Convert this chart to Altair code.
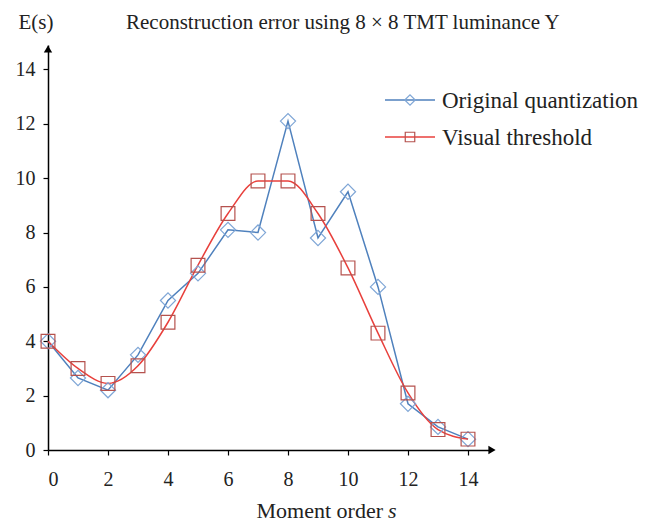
import altair as alt
import pandas as pd

orders = list(range(15))
original = [4.0, 2.65, 2.2, 3.5, 5.5, 6.5, 8.1, 8.0, 12.1, 7.8, 9.5, 6.0, 1.7, 0.85, 0.4]
visual = [4.0, 3.0, 2.45, 3.1, 4.7, 6.8, 8.7, 9.9, 9.9, 8.7, 6.7, 4.3, 2.1, 0.75, 0.4]
x_ticks = [0, 2, 4, 6, 8, 10, 12, 14]
y_ticks = [0, 2, 4, 6, 8, 10, 12, 14]
series_names = ["Original quantization", "Visual threshold"]

FONT = "Liberation Serif, Times New Roman, serif"
BLUE = "#4f81bd"
BLUE_MK = "#7fa6d6"
RED = "#e8403c"
RED_MK = "#b5524e"

df = pd.DataFrame({"s": orders, "orig": original, "vis": visual})

xs = alt.Scale(domain=[0, 14.7], nice=False, zero=False)
ys = alt.Scale(domain=[0, 14.9], nice=False)

x_axis = alt.Axis(values=x_ticks, title=None, grid=False, domainColor="black",
                  domainWidth=1.5, tickColor="black", tickSize=5, tickWidth=1.2,
                  labelFont=FONT, labelFontSize=20, labelPadding=14, labelColor="#222")
y_axis = alt.Axis(values=y_ticks, title=None, grid=False, domainColor="black",
                  domainWidth=1.5, tickColor="black", tickSize=5, tickWidth=1.2,
                  labelFont=FONT, labelFontSize=20, labelPadding=8, labelColor="#222")

X = alt.X("s:Q", scale=xs, axis=x_axis)
base = alt.Chart(df)

blue_line = base.mark_line(color=BLUE, strokeWidth=1.5).encode(
    x=X, y=alt.Y("orig:Q", scale=ys, axis=y_axis))
blue_pts = base.mark_point(shape="diamond", filled=False, size=230, color=BLUE_MK,
                           strokeWidth=1.2, opacity=1).encode(
    x=X, y=alt.Y("orig:Q", scale=ys, axis=y_axis))
red_line = base.mark_line(color=RED, strokeWidth=1.5, interpolate="monotone").encode(
    x=X, y=alt.Y("vis:Q", scale=ys, axis=y_axis))
red_pts = base.mark_point(shape="square", filled=False, size=190, color=RED_MK,
                          strokeWidth=1.2, opacity=1).encode(
    x=X, y=alt.Y("vis:Q", scale=ys, axis=y_axis))

one = alt.Chart(pd.DataFrame({"a": [0]}))

# axis arrows
arrow_y = one.mark_point(shape="triangle-up", filled=True, color="black", size=70, opacity=1).encode(
    x=alt.value(0), y=alt.value(4))
arrow_x = one.mark_point(shape="triangle-right", filled=True, color="black", size=70, opacity=1).encode(
    x=alt.value(444), y=alt.value(405))

# legend
leg_b_line = one.mark_rule(color=BLUE, strokeWidth=1.5).encode(
    x=alt.value(337), x2=alt.value(387), y=alt.value(55))
leg_b_pt = one.mark_point(shape="diamond", filled=False, size=110, color=BLUE_MK,
                          strokeWidth=1.2, opacity=1).encode(x=alt.value(362), y=alt.value(55))
leg_b_txt = one.mark_text(text=series_names[0], font=FONT, fontSize=23, align="left",
                          baseline="middle", color="#222").encode(x=alt.value(394), y=alt.value(56))
leg_r_line = one.mark_rule(color=RED, strokeWidth=1.5).encode(
    x=alt.value(337), x2=alt.value(387), y=alt.value(92))
leg_r_pt = one.mark_point(shape="square", filled=False, size=90, color=RED_MK,
                          strokeWidth=1.2, opacity=1).encode(x=alt.value(362), y=alt.value(92))
leg_r_txt = one.mark_text(text=series_names[1], font=FONT, fontSize=23, align="left",
                          baseline="middle", color="#222").encode(x=alt.value(394), y=alt.value(93))

# titles
t_es = one.mark_text(text="E(s)", font=FONT, fontSize=21, align="center",
                     baseline="alphabetic", color="#222").encode(x=alt.value(-12), y=alt.value(-16))
t_main = one.mark_text(text="Reconstruction error using 8 × 8 TMT luminance Y", font=FONT,
                       fontSize=21, align="left", baseline="alphabetic", color="#222").encode(
    x=alt.value(78), y=alt.value(-16))
t_x1 = one.mark_text(text="Moment order", font=FONT, fontSize=22, align="right",
                     baseline="alphabetic", color="#222").encode(x=alt.value(335), y=alt.value(473))
t_x2 = one.mark_text(text="s", font=FONT, fontSize=22, fontStyle="italic", align="left",
                     baseline="alphabetic", color="#222").encode(x=alt.value(340), y=alt.value(473))

chart = alt.layer(
    blue_line, red_line, blue_pts, red_pts, arrow_y, arrow_x,
    leg_b_line, leg_b_pt, leg_b_txt, leg_r_line, leg_r_pt, leg_r_txt,
    t_es, t_main, t_x1, t_x2,
).properties(
    width=441, height=405,
    autosize=alt.AutoSizeParams(type="none"),
    padding={"left": 40, "top": 37, "right": 166, "bottom": 76},
    background="white",
).configure_view(stroke=None)

chart.save("out.html", embed_options={"renderer": "svg", "actions": False})
